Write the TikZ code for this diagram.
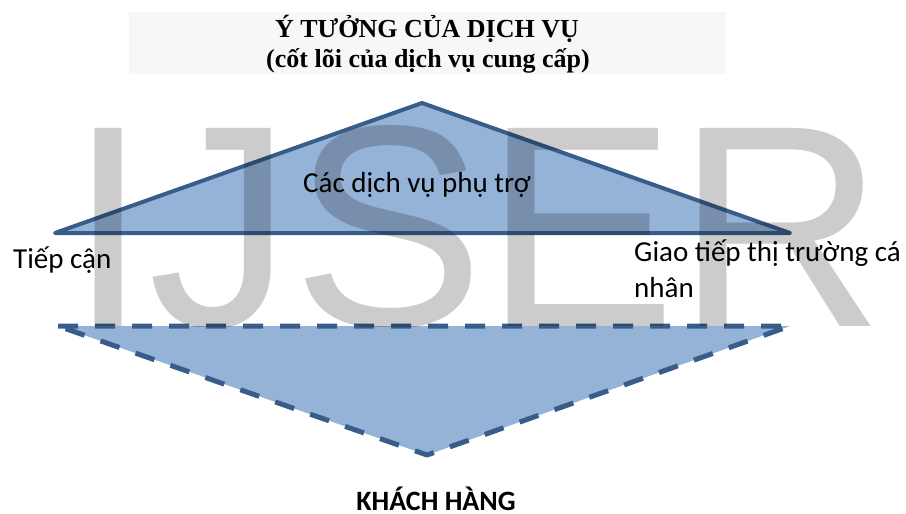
\documentclass[tikz,border=0pt]{standalone}
\usepackage{fontspec}
\setmainfont{Carlito}
\newfontfamily\titlefont{Liberation Serif}
\newfontfamily\wmfont{Liberation Sans}
\definecolor{edgeblue}{HTML}{385D8A}
\definecolor{fillblue}{HTML}{95B3D7}
\definecolor{titlebg}{HTML}{F6F7F9}
\begin{document}
\begin{tikzpicture}[x=1pt,y=-1pt,
  lbl/.style={anchor=base west,inner sep=0pt,font=\fontsize{29}{36}\selectfont},
  ttl/.style={inner sep=0pt,font=\titlefont\bfseries\fontsize{26}{30}\selectfont},
  upper/.style={draw=edgeblue,fill=fillblue,line width=4pt,line join=round},
  lower/.style={draw=edgeblue,fill=fillblue,line width=5pt,line join=round,dash pattern=on 20pt off 17pt}]
\useasboundingbox (0,0) rectangle (906,514);

% heading panel
\fill[titlebg] (129,12) rectangle (726,74);
\node[ttl,anchor=base] (t1) at (427,37) {Ý TƯỞNG CỦA DỊCH VỤ};
\node[ttl,anchor=base] (t2) at (428,67) {(cốt lõi của dịch vụ cung cấp)};

% upper triangle: supporting services
\coordinate (ua) at (422,103);
\coordinate (ul) at (55,233);
\coordinate (ur) at (790,233);
\draw[upper] (ul) -- (ua) -- (ur) -- cycle;

% lower triangle: customer
\coordinate (ll) at (58,326);
\coordinate (lr) at (790,326);
\coordinate (lb) at (427,455);
\draw[lower] (ll) -- (lr) -- (lb) -- cycle;

% watermark
\begin{scope}
  \clip (0,0) rectangle (906,326);
  \node[anchor=base west,inner sep=0pt,text=black,text opacity=0.2] (wm) at (68,326)
    {\wmfont\fontsize{288}{288}\selectfont IJSER};
\end{scope}

% labels
\node[lbl] (sup) at (303,192) {Các dịch vụ phụ trợ};
\node[lbl] (acc) at (13,268) {Tiếp cận};
\node[lbl] (com1) at (634,261) {Giao tiếp thị trường cá};
\node[lbl] (com2) at (634,297) {nhân};
\node[anchor=base,inner sep=0pt,font=\bfseries\fontsize{28}{32}\selectfont] (cust) at (436,510) {KHÁCH HÀNG};
\end{tikzpicture}
\end{document}
